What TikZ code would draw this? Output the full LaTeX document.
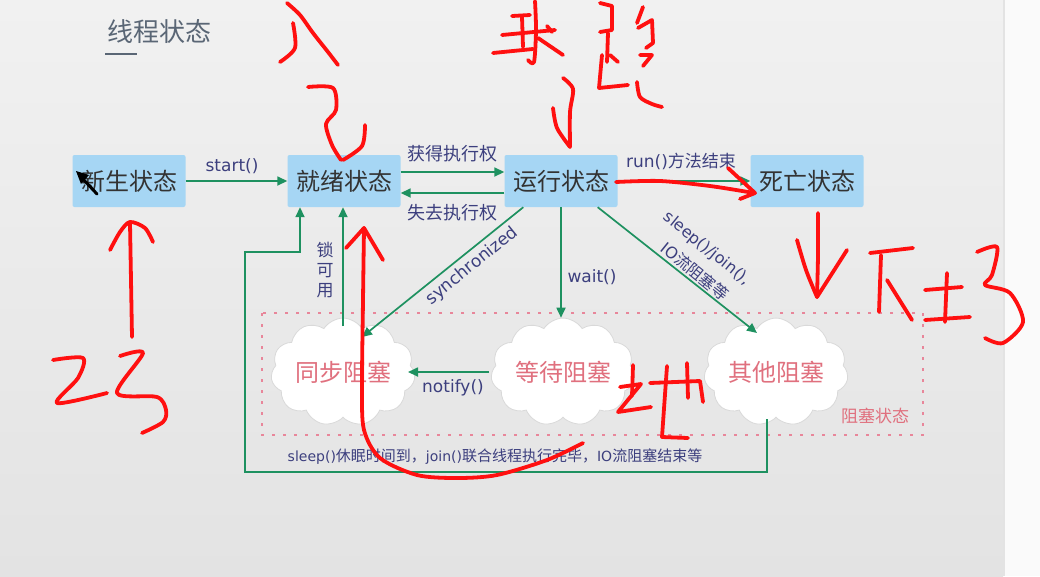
\documentclass[tikz,border=0pt]{standalone}
\usepackage{fontspec}
\setmainfont{Noto Sans CJK SC}
\newfontfamily\lat{DejaVu Sans}
\usetikzlibrary{shapes.symbols,arrows.meta,calc}
\definecolor{boxblue}{HTML}{A6D6F4}
\definecolor{arrgreen}{HTML}{1E9160}
\definecolor{labnavy}{HTML}{3C3F7E}
\definecolor{pinktext}{HTML}{E0707E}
\definecolor{pinkdash}{HTML}{E8869A}
\definecolor{hand}{HTML}{FF1010}
\definecolor{bgtop}{HTML}{F1F1F1}
\definecolor{bgbot}{HTML}{E3E3E3}
\definecolor{strip}{HTML}{FAFAFA}
\definecolor{titlegray}{HTML}{5A6675}
\tikzset{
  state/.style={fill=boxblue, rounded corners=2pt, minimum width=113pt, minimum height=52pt,
    font=\fontsize{24}{24}\selectfont, text=black!80, inner sep=0pt},
  blk/.style={cloud, cloud puffs=11, cloud puff arc=115, aspect=1.5, draw=gray!30, line width=0.8pt,
    fill=white, minimum width=143pt, minimum height=95pt, text=pinktext,
    font=\fontsize{24}{24}\selectfont, inner sep=0pt},
  conn/.style={draw=arrgreen, line width=1.7pt, -{Triangle[length=10pt,width=9pt]}},
  lab/.style={text=labnavy, font=\fontsize{17}{20}\selectfont, inner sep=1pt},
  handw/.style={draw=hand, line width=3.8pt, line cap=round, line join=round}
}
\begin{document}
\begin{tikzpicture}[x=1pt,y=-1pt]
\useasboundingbox (0,0) rectangle (1040,576);
% background
\shade[top color=bgtop, bottom color=bgbot] (0,0) rectangle (1003,576);
\fill[strip] (1003,0) rectangle (1040,576);
\draw[gray!22, line width=2pt] (1004,0) -- (1004,576);
% title
\node[text=titlegray, font=\fontsize{26}{26}\selectfont, inner sep=0pt] (title) at (159,32) {线程状态};
\coordinate (ul1) at (105,54);
\coordinate (ul2) at (137,54);
\draw[titlegray, line width=2.5pt] (ul1) -- (ul2);
% blocked region
\draw[pinkdash, line width=1.8pt, dash pattern=on 3pt off 8pt] (262,313) rectangle (923,435);
\node[text=pinktext, font=\fontsize{17}{17}\selectfont, inner sep=0pt] (blklab) at (875,416) {阻塞状态};
% states
\node[state] (new) at (129,181) {新生状态};
\node[state] (ready) at (344,181) {就绪状态};
\node[state] (run) at (561,181) {运行状态};
\node[state] (dead) at (807,181) {死亡状态};
\node[blk] (sync) at (343,372) {同步阻塞};
\node[blk] (wait) at (563,372) {等待阻塞};
\node[blk] (other) at (776,372) {其他阻塞};
% connectors
\draw[conn] (new) -- (ready);
\node[lab] (lstart) at (232,166) {\lat start()};
\draw[conn] ([yshift=9pt]ready.east) -- ([yshift=9pt]run.west);
\node[lab, font=\fontsize{18}{18}\selectfont] (lget) at (452,154) {获得执行权};
\draw[conn] ([yshift=-12pt]run.west) -- ([yshift=-12pt]ready.east);
\node[lab, font=\fontsize{18}{18}\selectfont] (llose) at (452,213) {失去执行权};
\draw[conn] (run) -- (dead);
\node[lab] (lrun) at (681,161) {{\lat run()}方法结束};
\draw[conn] ($(run.south west)+(19,0)$) -- ($(sync.center)+(19,-35)$);
\node[lab, rotate=39] (lsync) at (472,266) {\lat synchronized};
\draw[conn] (run.south) -- (run.south |- wait.north);
\node[lab] (lwait) at (592,277) {\lat wait()};
\draw[conn] ($(run.south east)+(-20,0)$) -- ($(other.center)+(-19,-39)$);
\node[lab, rotate=-39, font=\fontsize{16}{16}\selectfont] (lsleep1) at (707,249) {\lat sleep()/join(),};
\node[lab, rotate=-39, font=\fontsize{16}{16}\selectfont] (lsleep2) at (695,271) {{\lat IO}流阻塞等};
\draw[conn] ($(wait.center)+(-74,0)$) -- ($(sync.center)+(65,0)$);
\node[lab] (lnotify) at (453,388) {\lat notify()};
\draw[conn] ($(sync.center)+(0,-46)$) -- (sync.center |- ready.south);
\node[lab, align=center, font=\fontsize{17}{20}\selectfont] (llock) at (325,270) {锁\\可\\用};
\draw[conn] ($(other.center)+(-9,47)$) |- (245,472) |- (300,252) -- ([xshift=-44pt]ready.south);
\node[lab, font=\fontsize{15}{15}\selectfont] (lback) at (495,457) {{\lat\fontsize{14}{14}\selectfont sleep()}休眠时间到，{\lat\fontsize{14}{14}\selectfont join()}联合线程执行完毕，{\lat\fontsize{14}{14}\selectfont IO}流阻塞结束等};
% mouse cursor
\fill[black] (76,171) -- (89,175) -- (81,184) -- cycle;
\draw[black, line width=3pt, line cap=round] (82,178) -- (97,194);
% ---- red handwriting ----
% 入 and arrow to ready
\draw[handw] plot[smooth] coordinates {(287,3) (300,15) (313,33) (328,52) (338,65)};
\draw[handw] plot[smooth] coordinates {(293,23) (295,48) (280,62)};
\draw[handw] plot[smooth] coordinates {(308,87) (333,88) (336,110) (326,124) (332,145) (341,160)};
\draw[handw] plot[smooth] coordinates {(365,125) (362,146) (343,160)};
% 球
\draw[handw] (512,16) -- (530,15);
\draw[handw] (522,17) -- (523,47);
\draw[handw] (502,35) -- (555,30);
\draw[handw] (493,53) -- (533,49);
\draw[handw] plot[smooth] coordinates {(535,1) (536,30) (534,62) (528,60)};
\draw[handw] (538,38) -- (563,55);
\draw[handw] (547,26) -- (552,32);
% 跑
\draw[handw] (600,3) -- (612,6) -- (612,30) -- (600,32);
\draw[handw] (608,33) -- (607,62);
\draw[handw] (602,55) -- (599,88) -- (628,85);
\draw[handw] (610,55) -- (618,62);
\draw[handw] plot[smooth] coordinates {(643,7) (637,23)};
\draw[handw] (638,28) -- (652,20) -- (653,43) -- (646,48);
\draw[handw] (640,55) -- (652,55) -- (643,66);
\draw[handw] plot[smooth] coordinates {(637,82) (640,97) (652,104) (662,107)};
% arrow to run
\draw[handw] plot[smooth] coordinates {(563,78) (573,89) (570,112) (570,147)};
\draw[handw] plot[smooth] coordinates {(553,108) (557,128) (570,147)};
% run -> dead red arrow
\draw[handw] plot[smooth] coordinates {(616,182) (660,181) (710,186) (754,193)};
\draw[handw] (728,168) -- (755,193) -- (740,199);
% down arrow + 下场
\draw[handw] plot[smooth] coordinates {(818,213) (818,255) (817,297)};
\draw[handw] plot[smooth] coordinates {(797,240) (806,270) (817,297)};
\draw[handw] (817,297) -- (847,250);
\draw[handw] (870,253) -- (913,248);
\draw[handw] (881,255) -- (879,312);
\draw[handw] (887,280) -- (912,320);
\draw[handw] (947,273) -- (945,322);
\draw[handw] (925,290) -- (962,287);
\draw[handw] (925,320) -- (970,317);
\draw[handw] plot[smooth] coordinates {(977,252) (997,247) (992,275) (985,285) (1010,293) (1023,322) (1003,343) (985,338)};
% 23 with up arrow to new
\draw[handw] (130,223) -- (132,337);
\draw[handw] plot[smooth] coordinates {(110,250) (120,232) (130,222) (145,228) (153,242)};
\draw[handw] plot[smooth] coordinates {(53,360) (83,358) (78,378) (57,403) (107,393)};
\draw[handw] plot[smooth] coordinates {(120,356) (143,353) (117,393) (157,397) (166,410) (163,422) (142,433)};
% big red curve with arrow to ready
\draw[handw] plot[smooth] coordinates {(364,228) (363,300) (362,387) (364,430) (380,458) (417,475) (457,478) (497,475) (547,460) (583,443)};
\draw[handw] (346,248) -- (364,228) -- (383,260);
% 地
\draw[handw] (633,365) -- (632,396);
\draw[handw] (620,387) -- (641,384) -- (618,412) -- (651,407);
\draw[handw] (650,383) -- (700,381) -- (703,402);
\draw[handw] (667,366) -- (662,437) -- (688,438);
\draw[handw] (687,363) -- (688,398);
\end{tikzpicture}
\end{document}
